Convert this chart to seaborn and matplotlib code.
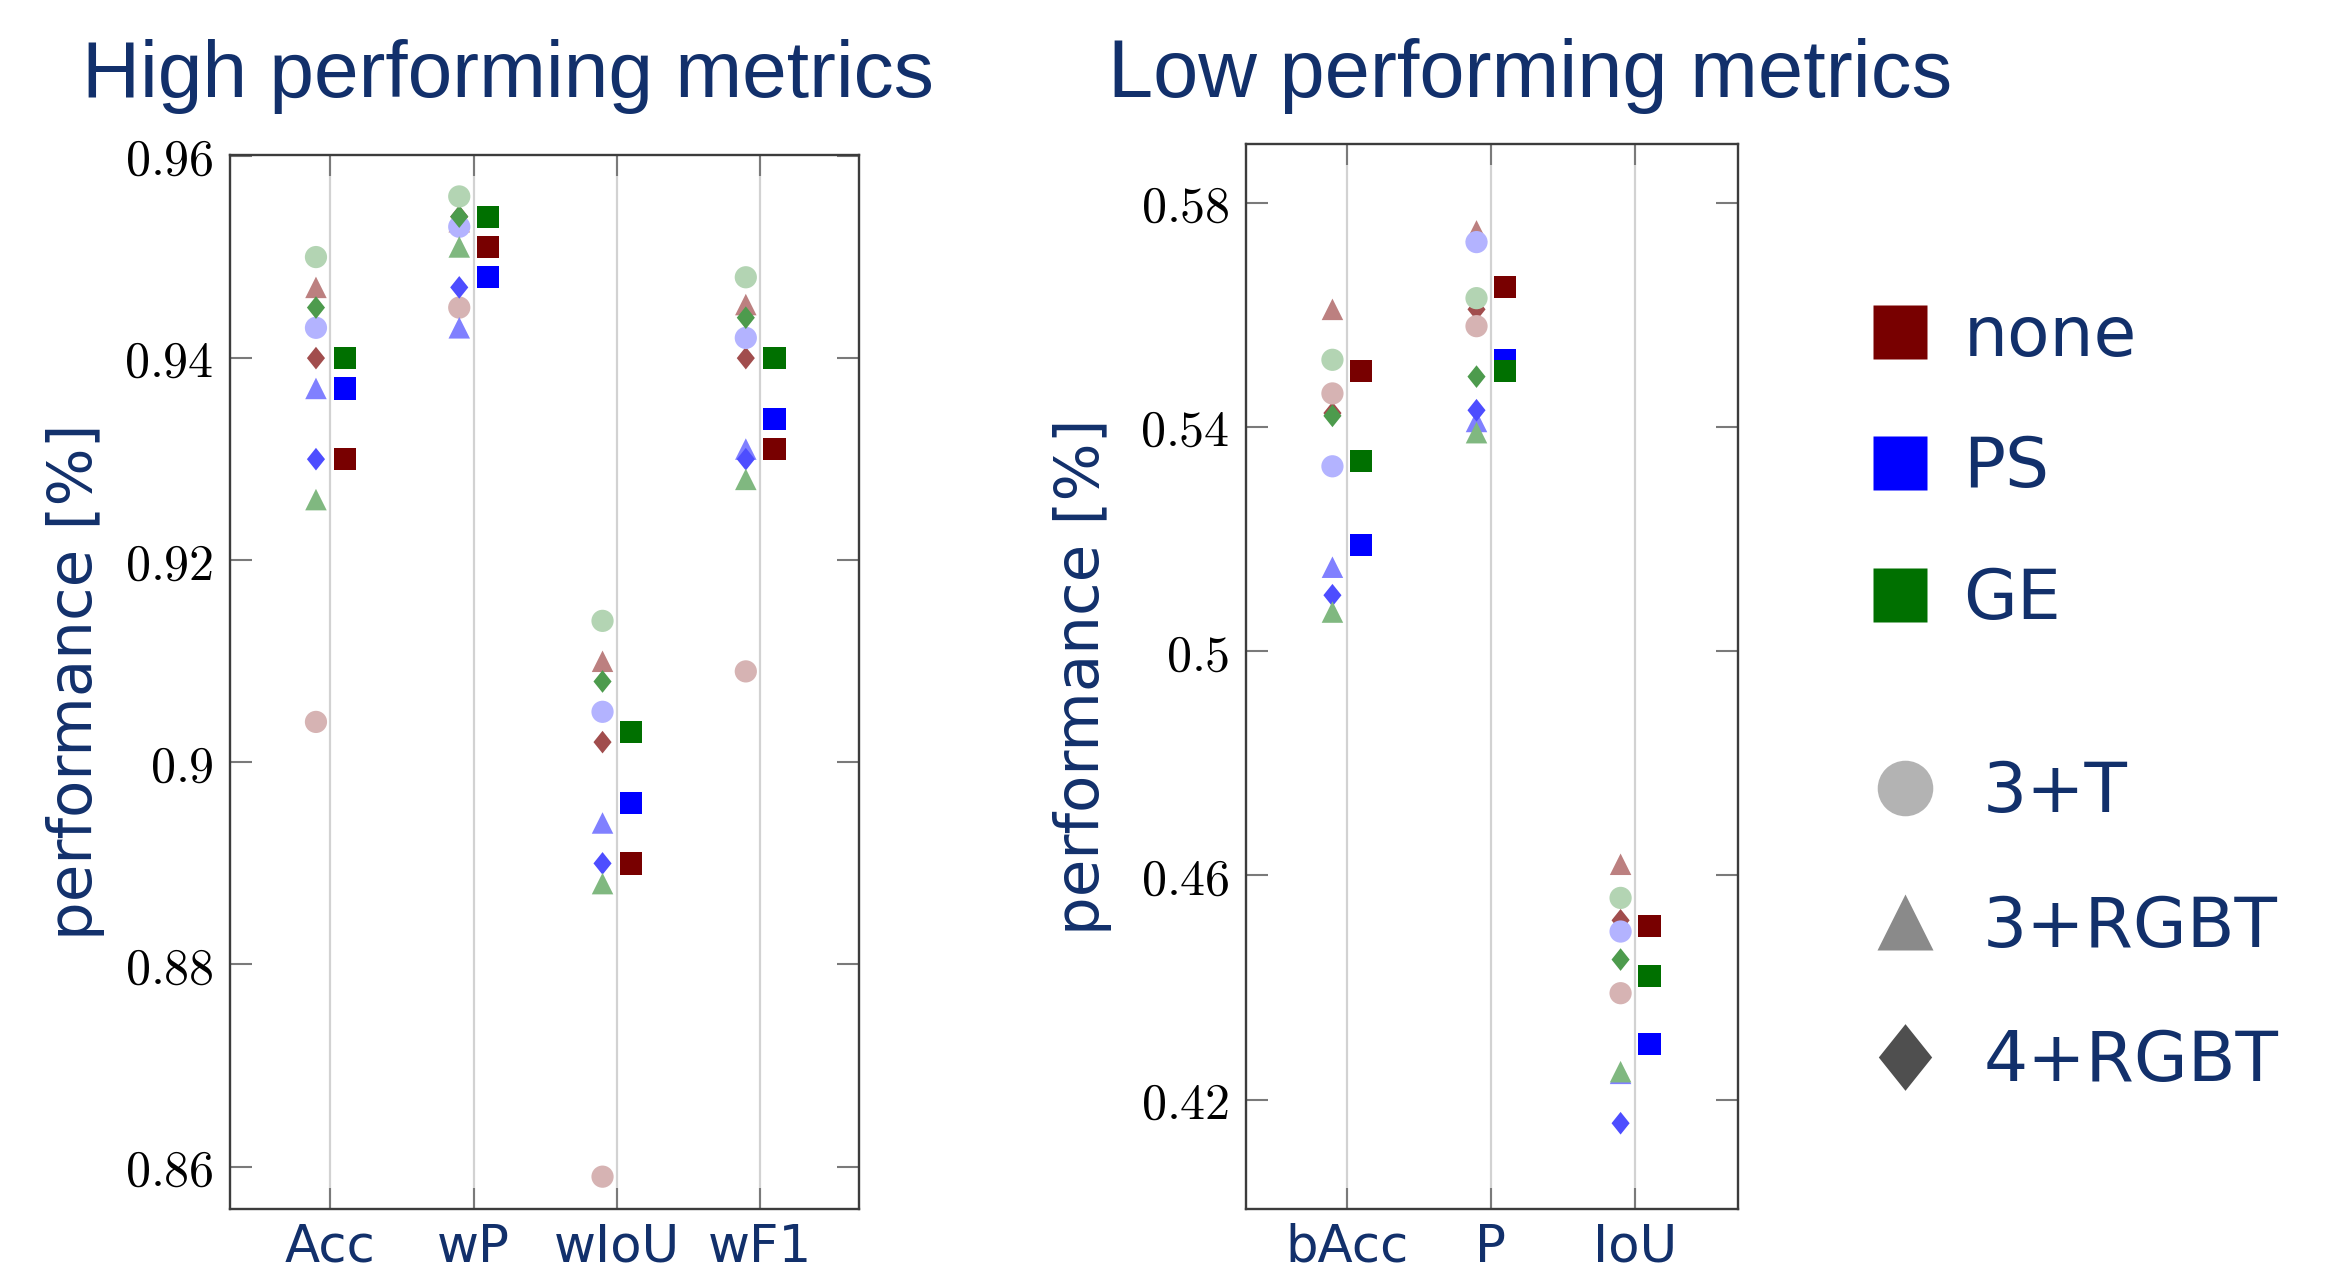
import numpy as np
import pandas as pd
import matplotlib
matplotlib.use("Agg")
import matplotlib.pyplot as plt
from matplotlib.lines import Line2D
from matplotlib.path import Path
from matplotlib.colors import to_rgb
from matplotlib.ticker import FuncFormatter
import seaborn as sns

# ---------------- data ----------------
high_metrics = ["Acc", "wP", "wIoU", "wF1"]
low_metrics = ["bAcc", "P", "IoU"]
methods = ["none", "PS", "GE"]
inputs = ["3+T", "3+RGBT", "4+RGBT"]

# High performing metrics (Acc, wP, wIoU, wF1)
high_none_3T = [0.904, 0.945, 0.859, 0.909]
high_none_3RGBT = [0.947, 0.9535, 0.910, 0.9453]
high_none_4RGBT = [0.940, 0.9540, 0.902, 0.940]
high_PS_3T = [0.943, 0.953, 0.905, 0.942]
high_PS_3RGBT = [0.937, 0.943, 0.894, 0.931]
high_PS_4RGBT = [0.930, 0.947, 0.890, 0.930]
high_GE_3T = [0.950, 0.956, 0.914, 0.948]
high_GE_3RGBT = [0.926, 0.951, 0.888, 0.928]
high_GE_4RGBT = [0.945, 0.954, 0.908, 0.944]
high_none_mean = [0.930, 0.951, 0.890, 0.931]
high_PS_mean = [0.937, 0.948, 0.896, 0.934]
high_GE_mean = [0.940, 0.954, 0.903, 0.940]

# Low performing metrics (bAcc, P, IoU)
low_none_3T = [0.546, 0.558, 0.439]
low_none_3RGBT = [0.561, 0.575, 0.462]
low_none_4RGBT = [0.5425, 0.561, 0.452]
low_PS_3T = [0.533, 0.573, 0.450]
low_PS_3RGBT = [0.515, 0.541, 0.4247]
low_PS_4RGBT = [0.510, 0.543, 0.4158]
low_GE_3T = [0.552, 0.563, 0.456]
low_GE_3RGBT = [0.507, 0.539, 0.425]
low_GE_4RGBT = [0.542, 0.549, 0.445]
low_none_mean = [0.550, 0.565, 0.451]
low_PS_mean = [0.519, 0.552, 0.430]
low_GE_mean = [0.534, 0.550, 0.442]

high_yticks = [0.86, 0.88, 0.90, 0.92, 0.94, 0.96]
low_yticks = [0.42, 0.46, 0.50, 0.54, 0.58]

# ---------------- style ----------------
sns.set_theme(style="white")
plt.rcParams["font.family"] = ["DejaVu Sans"]
plt.rcParams["mathtext.fontset"] = "cm"

NAVY = "#12306b"
method_colors = {"none": "#780000", "PS": "#0000ff", "GE": "#007000"}
input_tint = {"3+T": 0.3, "3+RGBT": 0.5, "4+RGBT": 0.7}
diamond = Path([(0, 1), (0.8, 0), (0, -1), (-0.8, 0), (0, 1)],
               [Path.MOVETO, Path.LINETO, Path.LINETO, Path.LINETO, Path.CLOSEPOLY])
input_marker = {"3+T": "o", "3+RGBT": "^", "4+RGBT": diamond}
input_size = {"3+T": 16.0 ** 2, "3+RGBT": 15.5 ** 2, "4+RGBT": 16.3 ** 2}
draw_order = ["3+RGBT", "4+RGBT", "3+T"]
SQUARE_SIZE = 16.0 ** 2
OFFSET = 0.1


def tint(color, a):
    r, g, b = to_rgb(color)
    return (1 - a + a * r, 1 - a + a * g, 1 - a + a * b)


def build_frames(metrics, small, means):
    rows = []
    for (method, inp), vals in small.items():
        for i, (m, v) in enumerate(zip(metrics, vals)):
            rows.append(dict(metric=m, method=method, input=inp, value=v, pos=i - OFFSET))
    df_small = pd.DataFrame(rows)
    rows = []
    for method, vals in means.items():
        for i, (m, v) in enumerate(zip(metrics, vals)):
            rows.append(dict(metric=m, method=method, value=v, pos=i + OFFSET))
    df_mean = pd.DataFrame(rows)
    return df_small, df_mean


def fmt(v, _pos):
    return r"$%s$" % ("%g" % round(v, 3))


def draw_panel(ax, metrics, small, means, ylim, yticks, xlim, ylabel_x):
    df_small, df_mean = build_frames(metrics, small, means)
    for method in methods:
        for inp in draw_order:
            sub = df_small[(df_small.method == method) & (df_small.input == inp)]
            sns.scatterplot(data=sub, x="pos", y="value", ax=ax,
                            color=tint(method_colors[method], input_tint[inp]),
                            marker=input_marker[inp], s=input_size[inp],
                            linewidth=0, edgecolor="none", legend=False, zorder=3)
    for method in methods:
        sub = df_mean[df_mean.method == method]
        sns.scatterplot(data=sub, x="pos", y="value", ax=ax, color=method_colors[method],
                        marker="s", s=SQUARE_SIZE, linewidth=0, edgecolor="none",
                        legend=False, zorder=4)
    ax.set_xlim(*xlim)
    ax.set_ylim(*ylim)
    ax.set_xticks(range(len(metrics)))
    ax.set_xticklabels(metrics)
    ax.set_yticks(yticks)
    ax.yaxis.set_major_formatter(FuncFormatter(fmt))
    ax.set_xlabel("")
    ax.set_ylabel("performance [%]", fontsize=44, color=NAVY)
    ax.yaxis.set_label_coords(ylabel_x, 0.5)
    ax.grid(axis="x", color="#d2d2d2", linewidth=1.6)
    ax.grid(axis="y", visible=False)
    ax.set_axisbelow(True)
    ax.tick_params(axis="y", direction="in", left=True, right=True, length=16, width=1.5,
                   color="#7a7a7a", labelsize=36, pad=12, labelcolor="black")
    ax.tick_params(axis="x", direction="in", top=True, bottom=True, length=15, width=1.5,
                   color="#7a7a7a", labelsize=37, pad=10, labelcolor=NAVY)
    for sp in ax.spines.values():
        sp.set_color("#3c3c3c")
        sp.set_linewidth(1.7)
        sp.set_visible(True)


fig = plt.figure(figsize=(23.32, 12.75), dpi=100)
W, H = 2332.0, 1275.0
ax1 = fig.add_axes([230 / W, 1 - 1209 / H, (859 - 230) / W, (1209 - 155) / H])
ax2 = fig.add_axes([1246 / W, 1 - 1209 / H, (1738 - 1246) / W, (1209 - 144) / H])

high_small = {
    ("none", "3+T"): high_none_3T, ("none", "3+RGBT"): high_none_3RGBT, ("none", "4+RGBT"): high_none_4RGBT,
    ("PS", "3+T"): high_PS_3T, ("PS", "3+RGBT"): high_PS_3RGBT, ("PS", "4+RGBT"): high_PS_4RGBT,
    ("GE", "3+T"): high_GE_3T, ("GE", "3+RGBT"): high_GE_3RGBT, ("GE", "4+RGBT"): high_GE_4RGBT,
}
high_means = {"none": high_none_mean, "PS": high_PS_mean, "GE": high_GE_mean}
low_small = {
    ("none", "3+T"): low_none_3T, ("none", "3+RGBT"): low_none_3RGBT, ("none", "4+RGBT"): low_none_4RGBT,
    ("PS", "3+T"): low_PS_3T, ("PS", "3+RGBT"): low_PS_3RGBT, ("PS", "4+RGBT"): low_PS_4RGBT,
    ("GE", "3+T"): low_GE_3T, ("GE", "3+RGBT"): low_GE_3RGBT, ("GE", "4+RGBT"): low_GE_4RGBT,
}
low_means = {"none": low_none_mean, "PS": low_PS_mean, "GE": low_GE_mean}

draw_panel(ax1, high_metrics, high_small, high_means, (0.8558, 0.9601), high_yticks,
           (-0.70, 3.69), (105 - 230) / (859 - 230))
draw_panel(ax2, low_metrics, low_small, low_means, (0.4005, 0.5905), low_yticks,
           (-0.70, 2.715), (1112 - 1246) / (1738 - 1246))

# titles
title_kw = dict(ha="left", va="baseline", color=NAVY, family=["Liberation Sans", "DejaVu Sans"])
fig.text(82 / W, 1 - 97 / H, "High performing metrics", fontsize=57.8, **title_kw)
fig.text(1108 / W, 1 - 97 / H, "Low performing metrics", fontsize=58.5, **title_kw)

# legends
method_handles = [Line2D([], [], linestyle="none", marker="s", markersize=39,
                         markerfacecolor=method_colors[m], markeredgecolor="none") for m in methods]
fig.legend(method_handles, methods, loc="center left", bbox_to_anchor=(1858 / W, 1 - 468 / H),
           frameon=False, fontsize=50, handlelength=1.2, handletextpad=0.32,
           labelspacing=0.93, borderpad=0, borderaxespad=0, labelcolor=NAVY)
gray = {"3+T": "#b3b3b3", "3+RGBT": "#8a8a8a", "4+RGBT": "#4f4f4f"}
gsize = {"3+T": 40, "3+RGBT": 41, "4+RGBT": 48}
input_handles = [Line2D([], [], linestyle="none", marker=input_marker[i], markersize=gsize[i],
                        markerfacecolor=gray[i], markeredgecolor="none") for i in inputs]
fig.legend(input_handles, inputs, loc="center left", bbox_to_anchor=(1863 / W, 1 - 927 / H),
           frameon=False, fontsize=50, handlelength=1.2, handletextpad=0.53,
           labelspacing=0.97, borderpad=0, borderaxespad=0, labelcolor=NAVY)

fig.savefig("out.png", dpi=100)
